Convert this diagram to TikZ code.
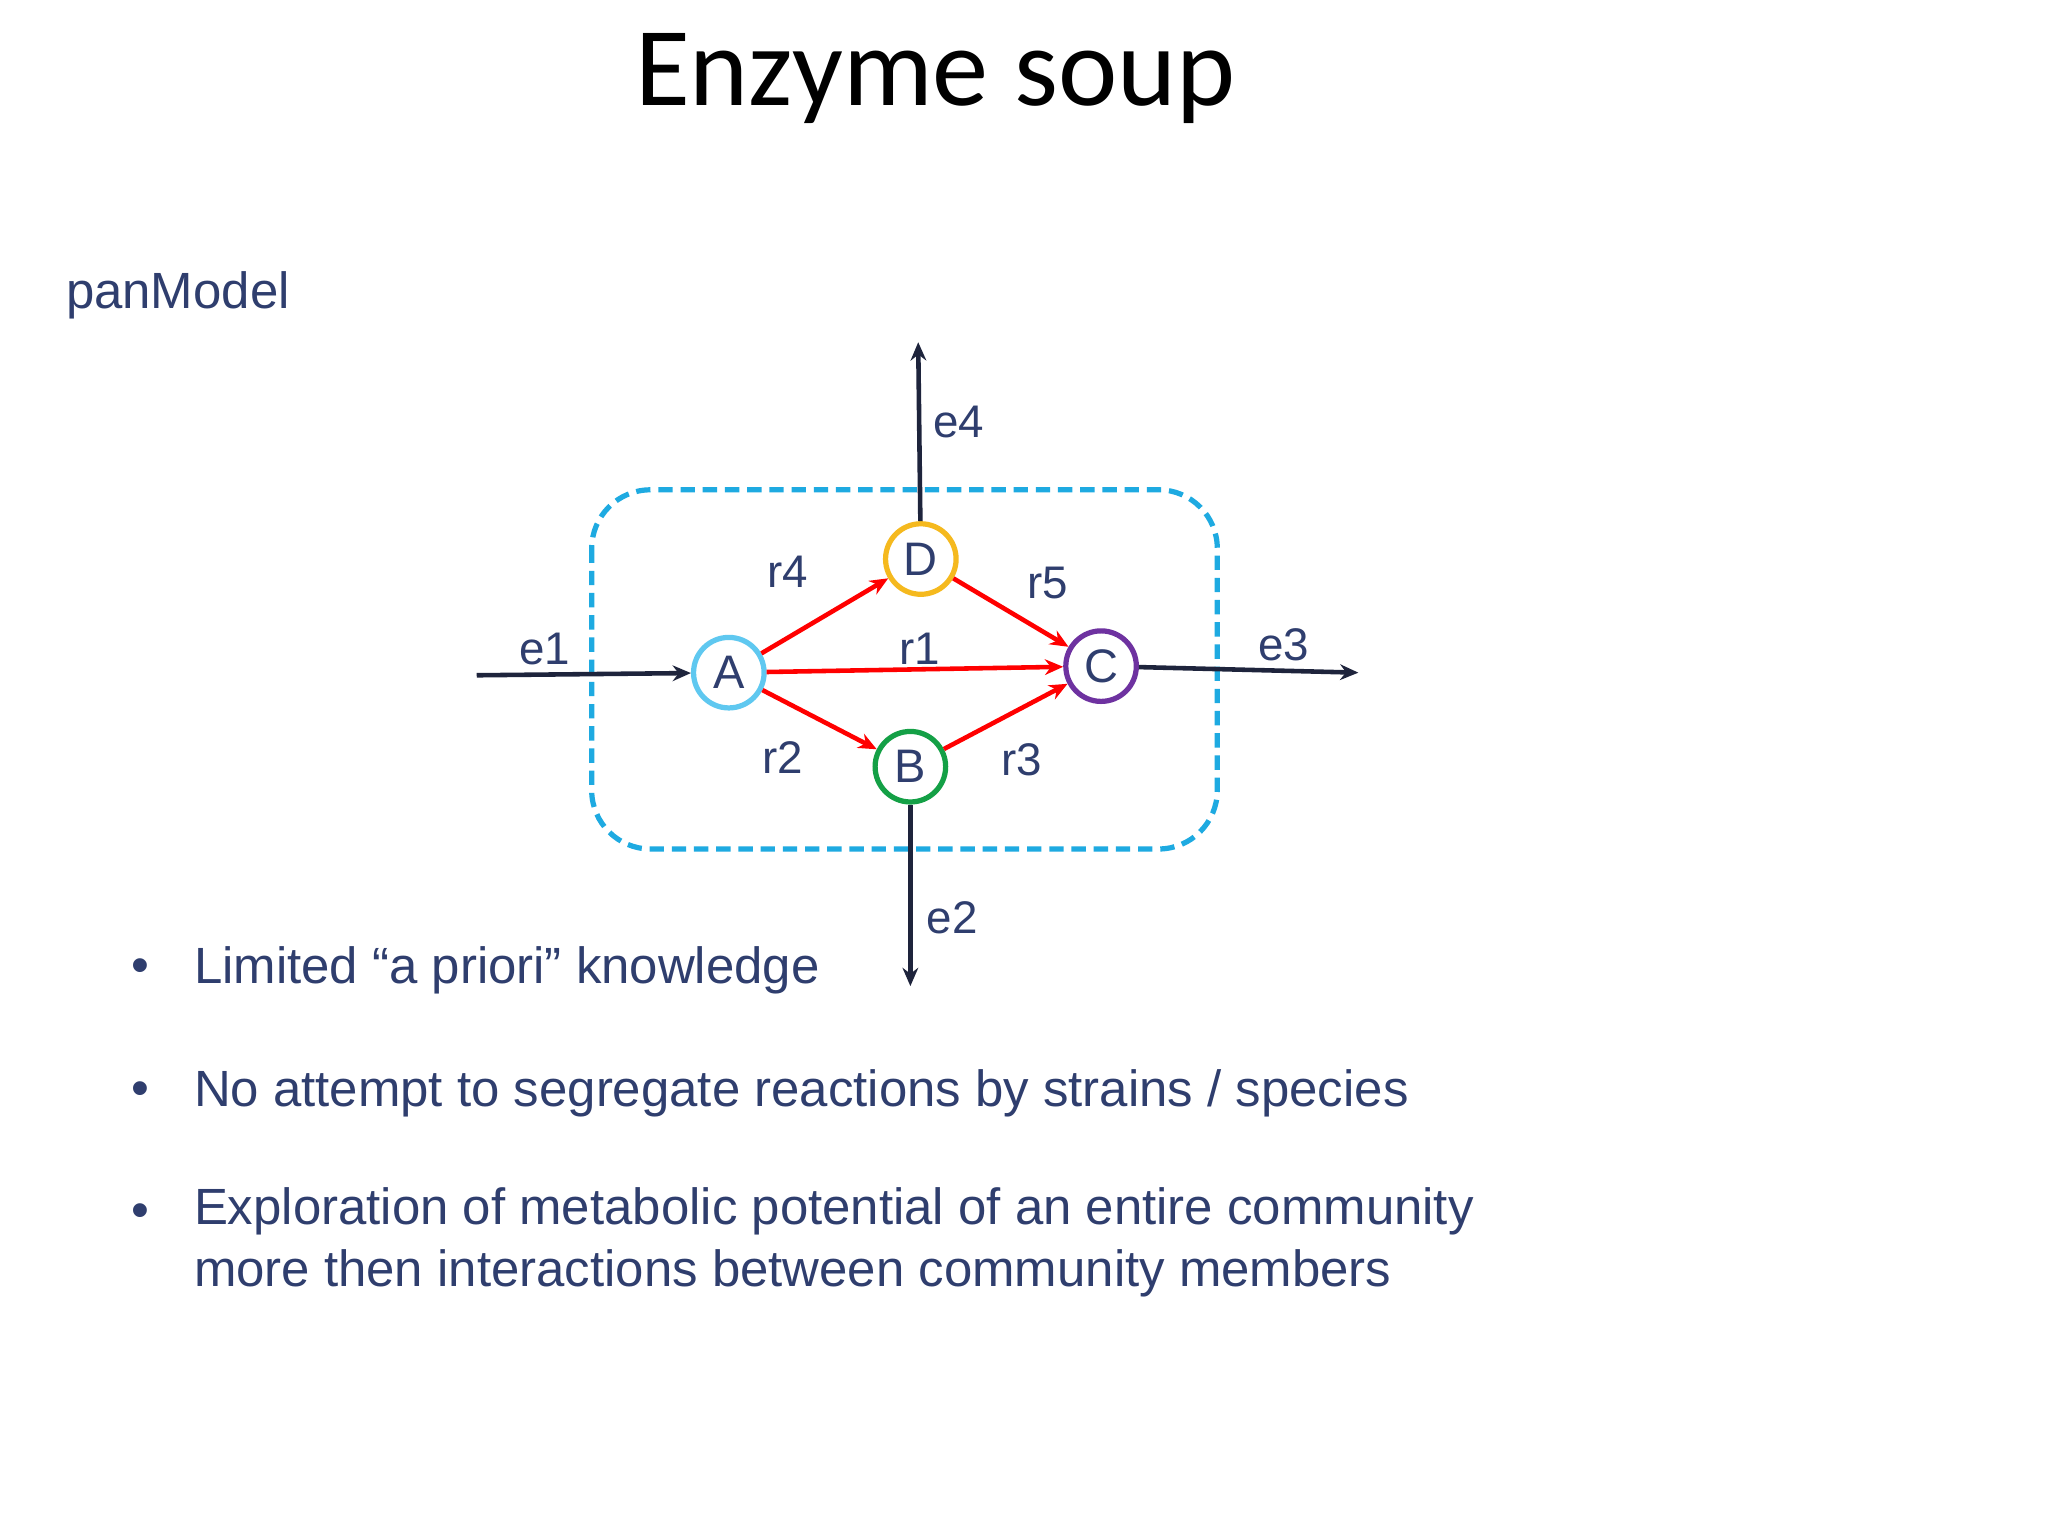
\documentclass[tikz,border=0pt]{standalone}
\usepackage{fontspec}
\setmainfont{Liberation Sans}
\newfontfamily\titlefont{Carlito}
\usetikzlibrary{arrows.meta}
\definecolor{txt}{RGB}{47,62,110}
\definecolor{navy}{RGB}{30,36,60}
\definecolor{cA}{RGB}{95,200,240}
\definecolor{cD}{RGB}{245,185,30}
\definecolor{cC}{RGB}{110,50,160}
\definecolor{cB}{RGB}{20,160,70}
\definecolor{box}{RGB}{30,170,225}
\tikzset{
 met/.style={circle,draw=#1,line width=4pt,minimum size=54pt,inner sep=0pt,text=txt,font=\fontsize{36}{36}\selectfont},
 rx/.style={draw=red,line width=3.5pt,-{Stealth[length=14pt,width=12pt]}},
 ex/.style={draw=navy,line width=3.5pt,-{Stealth[length=14pt,width=12pt]}},
 lab/.style={text=txt,font=\fontsize{35}{35}\selectfont},
 body/.style={text=txt,font=\fontsize{39}{47}\selectfont,anchor=west}
}
\begin{document}
\begin{tikzpicture}[x=1pt,y=-1pt]
\useasboundingbox (0,0) rectangle (1568,1176);
\fill[white] (0,0) rectangle (1568,1176);
\node[text=black,font=\titlefont\fontsize{86}{86}\selectfont] (title) at (716,60) {Enzyme soup};
\node[body] (pm) at (47,226) {panModel};
\draw[box,line width=4pt,dash pattern=on 11pt off 6pt,rounded corners=45pt] (453,375) rectangle (932,650);
\node[met=cA] (A) at (558,515) {A};
\node[met=cD] (D) at (705,428) {D};
\node[met=cC] (C) at (843,510) {C};
\node[met=cB] (B) at (697,587) {B};
\coordinate (e1s) at (365,517);
\coordinate (e3e) at (1040,515);
\coordinate (e4e) at (703,262);
\coordinate (e2e) at (697,755);
\draw[ex] (e1s) -- (A);
\draw[ex] (C) -- (e3e);
\draw[ex] (D) -- (e4e);
\draw[ex] (B) -- (e2e);
\draw[rx] (A) -- (C);
\draw[rx] (A) -- (D);
\draw[rx] (D) -- (C);
\draw[rx] (A) -- (B);
\draw[rx] (B) -- (C);
\node[lab] (le1) at (417,497) {e1};
\node[lab] (lr4) at (603,438) {r4};
\node[lab] (lr1) at (704,497) {r1};
\node[lab] (lr5) at (802,446) {r5};
\node[lab] (le3) at (983,494) {e3};
\node[lab] (lr2) at (599,580) {r2};
\node[lab] (lr3) at (782,582) {r3};
\node[lab] (le4) at (734,323) {e4};
\node[lab] (le2) at (729,703) {e2};
\node[body] (b1d) at (97,743) {•};
\node[body] (b1) at (145,743) {Limited “a priori” knowledge};
\node[body] (b2d) at (97,837) {•};
\node[body] (b2) at (145,837) {No attempt to segregate reactions by strains / species};
\node[body] (b3d) at (97,931) {•};
\node[body,align=left,anchor=north west] (b3) at (145,906) {Exploration of metabolic potential of an entire community\\more then interactions between community members};
\end{tikzpicture}
\end{document}
